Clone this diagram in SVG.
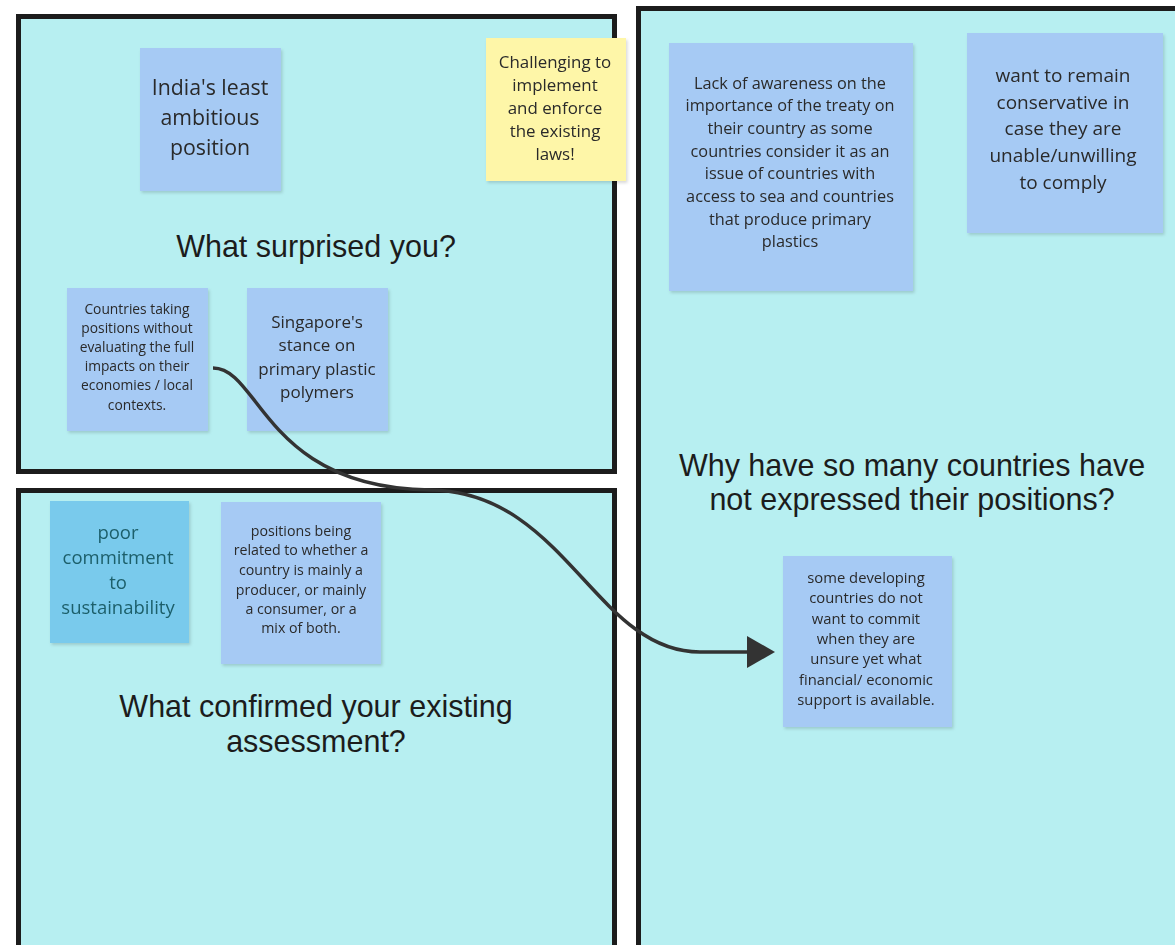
<svg xmlns="http://www.w3.org/2000/svg" width="1175" height="945" viewBox="0 0 1175 945">
<style>
.frame{fill:#b7eff1;stroke:#1c1c1c;stroke-width:5}
.note{fill:#a6caf4}
.yel{fill:#fef6a8}
.dk{fill:#79caec}
.t{font-family:"Open Sans","Liberation Sans",sans-serif;fill:#2a2a2a;text-anchor:middle}
.h{font-family:"Liberation Sans",Arial,sans-serif;fill:#1c1c1c;text-anchor:middle;font-size:30.5px}
.conn{fill:none;stroke:#333;stroke-width:3.5}
</style>
<defs>
<filter id="sh" x="-10%" y="-10%" width="130%" height="130%">
<feDropShadow dx="1.5" dy="2" stdDeviation="1.5" flood-color="#000" flood-opacity="0.15"/>
</filter>
<marker id="arr" viewBox="0 0 28 32" refX="0" refY="16" markerWidth="28" markerHeight="32" markerUnits="userSpaceOnUse" orient="auto">
<path d="M0,0 L28,16 L0,32 z" fill="#333"/>
</marker>
</defs>
<rect width="1175" height="945" fill="#fff"/>
<g id="frame-surprised">
<rect class="frame" x="18.5" y="16.5" width="596" height="455"/>
<text class="h" x="316" y="257">What surprised you?</text>
</g>
<g id="frame-confirmed">
<rect class="frame" x="18.5" y="490.5" width="596" height="500"/>
<text class="h" x="316" y="717">What confirmed your existing</text>
<text class="h" x="316" y="752">assessment?</text>
</g>
<g id="frame-why">
<rect class="frame" x="638.5" y="8.5" width="600" height="1000"/>
<text class="h" x="912" y="476">Why have so many countries have</text>
<text class="h" x="912" y="510">not expressed their positions?</text>
</g>
<g id="note-india" filter="url(#sh)">
<rect class="note" x="140" y="48" width="141" height="143"/>
<text class="t" font-size="21.3"><tspan x="210" y="95">India's least</tspan><tspan x="210" y="125">ambitious</tspan><tspan x="210" y="155">position</tspan></text>
</g>
<g id="note-challenging" filter="url(#sh)">
<rect class="yel" x="486" y="38" width="140" height="143"/>
<text class="t" font-size="16.9"><tspan x="555" y="68">Challenging to</tspan><tspan x="555" y="91">implement</tspan><tspan x="555" y="114">and enforce</tspan><tspan x="555" y="137">the existing</tspan><tspan x="555" y="160">laws!</tspan></text>
</g>
<g id="note-countries" filter="url(#sh)">
<rect class="note" x="67" y="288" width="141" height="143"/>
<text class="t" font-size="13.8"><tspan x="137" y="314">Countries taking</tspan><tspan x="137" y="333">positions without</tspan><tspan x="137" y="352">evaluating the full</tspan><tspan x="137" y="371">impacts on their</tspan><tspan x="137" y="390">economies / local</tspan><tspan x="137" y="410">contexts.</tspan></text>
</g>
<g id="note-singapore" filter="url(#sh)">
<rect class="note" x="247" y="288" width="141" height="143"/>
<text class="t" font-size="17"><tspan x="317" y="328">Singapore's</tspan><tspan x="317" y="351">stance on</tspan><tspan x="317" y="375">primary plastic</tspan><tspan x="317" y="398">polymers</tspan></text>
</g>
<g id="note-poor" filter="url(#sh)">
<rect class="dk" x="50" y="501" width="139" height="142"/>
<text class="t" font-size="18.5" style="fill:#1d5f6a"><tspan x="118" y="539">poor</tspan><tspan x="118" y="564">commitment</tspan><tspan x="118" y="589">to</tspan><tspan x="118" y="614">sustainability</tspan></text>
</g>
<g id="note-positions" filter="url(#sh)">
<rect class="note" x="221" y="502" width="160" height="162"/>
<text class="t" font-size="14.2"><tspan x="301" y="536">positions being</tspan><tspan x="301" y="555">related to whether a</tspan><tspan x="301" y="575">country is mainly a</tspan><tspan x="301" y="595">producer, or mainly</tspan><tspan x="301" y="614">a consumer, or a</tspan><tspan x="301" y="633">mix of both.</tspan></text>
</g>
<g id="note-lack" filter="url(#sh)">
<rect class="note" x="669" y="43" width="244" height="248"/>
<text class="t" font-size="16.3"><tspan x="790" y="89">Lack of awareness on the</tspan><tspan x="790" y="111">importance of the treaty on</tspan><tspan x="790" y="134">their country as some</tspan><tspan x="790" y="157">countries consider it as an</tspan><tspan x="790" y="179">issue of countries with</tspan><tspan x="790" y="202">access to sea and countries</tspan><tspan x="790" y="225">that produce primary</tspan><tspan x="790" y="247">plastics</tspan></text>
</g>
<g id="note-remain" filter="url(#sh)">
<rect class="note" x="967" y="33" width="196" height="200"/>
<text class="t" font-size="19"><tspan x="1063" y="82">want to remain</tspan><tspan x="1063" y="109">conservative in</tspan><tspan x="1063" y="135">case they are</tspan><tspan x="1063" y="162">unable/unwilling</tspan><tspan x="1063" y="189">to comply</tspan></text>
</g>
<g id="note-developing" filter="url(#sh)">
<rect class="note" x="783" y="556" width="169" height="171"/>
<text class="t" font-size="14.8"><tspan x="866" y="583">some developing</tspan><tspan x="866" y="603">countries do not</tspan><tspan x="866" y="624">want to commit</tspan><tspan x="866" y="644">when they are</tspan><tspan x="866" y="664">unsure yet what</tspan><tspan x="866" y="685">financial/ economic</tspan><tspan x="866" y="705">support is available.</tspan></text>
</g>
<g id="connectors">
<path class="conn" d="M213,368 C260,368 265,488 430,490 C565,491 595,652 700,652 L747,652" marker-end="url(#arr)"/>
</g>
</svg>
